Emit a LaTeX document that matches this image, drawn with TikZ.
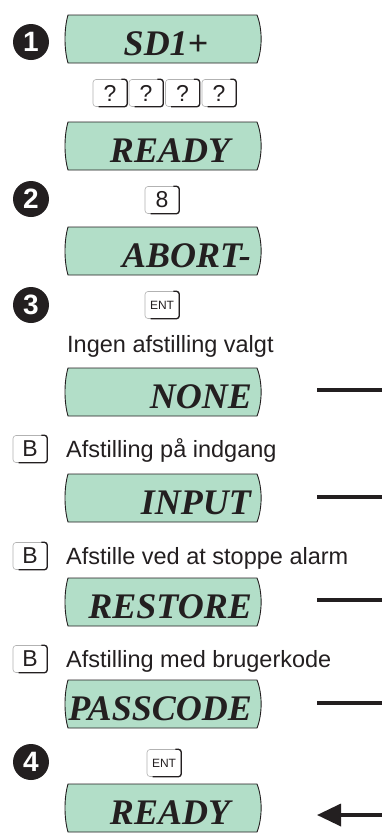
\documentclass[tikz,border=0pt]{standalone}
\usepackage{fontspec}
\setmainfont{Liberation Serif}
\newfontfamily\arial{Liberation Sans}
\usetikzlibrary{arrows.meta}
\definecolor{lcdgreen}{HTML}{B2DEC8}
\definecolor{ink}{HTML}{231F20}
\tikzset{
 lcdframe/.style={fill=lcdgreen, draw=ink, line width=0.9pt, line join=miter},
 lcdtext/.style={font=\fontsize{36}{36}\selectfont\bfseries\itshape, text=ink, inner sep=0pt},
 stepdot/.style={circle, fill=ink, minimum size=36pt, inner sep=0pt, text=white, font=\arial\bfseries\fontsize{28}{28}\selectfont},
 keybox/.style={draw=gray!60, fill=white, rounded corners=3pt, line width=0.6pt, minimum width=34pt, minimum height=27pt, inner sep=0pt, font=\arial\fontsize{23}{23}\selectfont, text=ink},
 entkey/.style={keybox, font=\arial\fontsize{12}{12}\selectfont},
 keyedge/.style={draw=ink, line width=1.3pt, rounded corners=3pt},
 captxt/.style={font=\arial\fontsize{23.5}{23.5}\selectfont, text=ink, inner sep=0pt, anchor=base west},
 exitline/.style={draw=ink, line width=3.5pt},
}
\newcommand\lcdshape[1]{%
 \path[lcdframe] (68,#1) -- (257,#1) .. controls (262.5,#1+14) and (262.5,#1+34) .. (257,#1+48)
   -- (68,#1+48) .. controls (64,#1+34) and (64,#1+14) .. (68,#1) -- cycle;}
\newcommand\keyshade[1]{%
 \draw[keyedge] ([xshift=-6pt]#1.north east) -- (#1.north east) -- (#1.south east) -- ([xshift=6pt]#1.south west);}
\begin{document}
\begin{tikzpicture}[x=1pt,y=-1pt]
\useasboundingbox (0,0) rectangle (382,833);
\clip (0,0) rectangle (382,833);
\fill[white] (0,0) rectangle (382,833);

% step markers
\node[stepdot] (s1) at (31,42) {1};
\node[stepdot] (s2) at (31,199) {2};
\node[stepdot] (s3) at (31,305) {3};
\node[stepdot] (s4) at (31,762) {4};

% displays
\lcdshape{15}
\node[lcdtext, anchor=base] (dsd) at (166,55) {SD1+};
\lcdshape{122}
\node[lcdtext, anchor=base] (dready) at (170,162) {READY};
\lcdshape{227}
\node[lcdtext, anchor=base east] (dabort) at (251,267) {ABORT-};
\lcdshape{368}
\node[lcdtext, anchor=base east] (dnone) at (252,408) {NONE};
\lcdshape{474}
\node[lcdtext, anchor=base east] (dinput) at (251,514) {INPUT};
\lcdshape{578}
\node[lcdtext, anchor=base east] (drestore) at (252,618) {RESTORE};
\lcdshape{680}
\node[lcdtext, anchor=base east] (dpass) at (252,720) {PASSCODE};
\lcdshape{784}
\node[lcdtext, anchor=base] (dready2) at (170,824) {READY};

% keys
\node[keybox] (q1) at (110,93) {?};
\node[keybox] (q2) at (146,93) {?};
\node[keybox] (q3) at (182.5,93) {?};
\node[keybox] (q4) at (219,93) {?};
\node[keybox] (k8) at (162,200) {8};
\node[entkey] (ent1) at (162,305) {ENT};
\node[keybox] (b1) at (30,449) {B};
\node[keybox] (b2) at (30,556) {B};
\node[keybox] (b3) at (30,659) {B};
\node[entkey] (ent2) at (164,763) {ENT};
\foreach \k in {q1,q2,q3,q4,k8,ent1,b1,b2,b3,ent2} {\keyshade{\k}}

% captions
\node[captxt] (c0) at (67,352) {Ingen afstilling valgt};
\node[captxt] (c1) at (66,457.5) {Afstilling på indgang};
\node[captxt] (c2) at (66,564.5) {Afstille ved at stoppe alarm};
\node[captxt] (c3) at (66,667.5) {Afstilling med brugerkode};

% exit lines
\coordinate (l1a) at (317,390); \coordinate (l1b) at (382,390);
\coordinate (l2a) at (317,497); \coordinate (l2b) at (382,497);
\coordinate (l3a) at (317,600); \coordinate (l3b) at (382,600);
\coordinate (l4a) at (317,703); \coordinate (l4b) at (382,703);
\coordinate (rin) at (382,815); \coordinate (rtip) at (317,815);
\draw[exitline] (l1a) -- (l1b);
\draw[exitline] (l2a) -- (l2b);
\draw[exitline] (l3a) -- (l3b);
\draw[exitline] (l4a) -- (l4b);
\draw[exitline, -{Triangle[length=24pt,width=22pt]}] (rin) -- (rtip);
\end{tikzpicture}
\end{document}
